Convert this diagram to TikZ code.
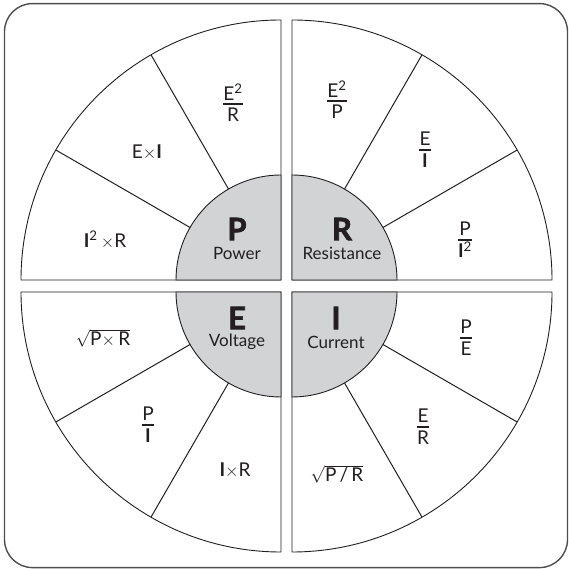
\documentclass[tikz,border=0pt]{standalone}
\usepackage{fontspec}
\setmainfont{Lato}
\newfontfamily\heavyfont[BoldFeatures={FakeBold=2}]{Lato}
\usetikzlibrary{calc}
\definecolor{ink}{HTML}{231F20}
\definecolor{hubgray}{HTML}{D1D3D4}
\definecolor{framegray}{HTML}{4D4D4F}
\newcommand\myfrac[2]{{\setlength\arrayrulewidth{1.8pt}\renewcommand\arraystretch{0}%
\begin{tabular}{@{\hspace{0.5pt}}c@{\hspace{0.5pt}}}\rule[-3pt]{0pt}{15pt}#1\\\hline\rule{0pt}{17pt}#2\end{tabular}}}
\newcommand\tms{$\times$}
\begin{document}
\begin{tikzpicture}[x=1pt,y=1pt,
  quad/.style={draw=ink,line width=0.9pt,fill=white},
  hub/.style={draw=ink,line width=0.9pt,fill=hubgray},
  divider/.style={draw=ink,line width=1pt},
  formula/.style={text=ink,font=\fontsize{19}{22}\selectfont,inner sep=0pt},
  letter/.style={text=ink,font=\fontsize{31}{31}\selectfont\heavyfont\bfseries,inner sep=0pt},
  word/.style={text=ink,font=\fontsize{17}{20}\selectfont,inner sep=0pt}]
\useasboundingbox (0,0) rectangle (569,569);
\node[draw=framegray,line width=1.4pt,rounded corners=28pt,minimum width=563pt,minimum height=564pt,inner sep=0pt] (frame) at (286,283.4) {};
% quadrants
\coordinate (ctl) at (281,289);
\coordinate (ctr) at (292,289);
\coordinate (cbl) at (281,277);
\coordinate (cbr) at (292,277);
\draw[quad] (ctl) -- ++(0,260) arc[start angle=90,end angle=180,radius=260] -- cycle;
\draw[quad] (ctr) -- ++(260,0) arc[start angle=0,end angle=90,radius=260] -- cycle;
\draw[quad] (cbl) -- ++(-260,0) arc[start angle=180,end angle=270,radius=260] -- cycle;
\draw[quad] (cbr) -- ++(0,-260) arc[start angle=270,end angle=360,radius=260] -- cycle;
% hubs
\draw[hub] (ctl) -- ++(0,105) arc[start angle=90,end angle=180,radius=105] -- cycle;
\draw[hub] (ctr) -- ++(105,0) arc[start angle=0,end angle=90,radius=105] -- cycle;
\draw[hub] (cbl) -- ++(-105,0) arc[start angle=180,end angle=270,radius=105] -- cycle;
\draw[hub] (cbr) -- ++(0,-105) arc[start angle=270,end angle=360,radius=105] -- cycle;
% dividers
\foreach \c/\a in {ctl/120,ctl/150,ctr/30,ctr/60,cbl/210,cbl/240,cbr/300,cbr/330}
  \draw[divider] ($(\c)+(\a:105)$) -- ($(\c)+(\a:260)$);
% hub labels
\node[letter] (pl) at (237,340) {P};
\node[word] (pw) at (237,316) {Power};
\node[letter] (rl) at (342,340) {R};
\node[word] (rw) at (342,316) {Resistance};
\node[letter] (el) at (237,251) {E};
\node[word] (ew) at (237,227) {Voltage};
\node[letter] (il) at (336,251) {I};
\node[word] (iw) at (336,227) {Current};
% power formulas
\node[formula] (p1) at (233,466) {\myfrac{E\textsuperscript{2}}{R}};
\node[formula] (p2) at (147,417) {E\tms\textbf{I}};
\node[formula] (p3) at (105,329) {\textbf{I}\textsuperscript{2}\,\tms R};
% resistance formulas
\node[formula] (r1) at (337,469) {\myfrac{E\textsuperscript{2}}{P}};
\node[formula] (r2) at (425,419) {\myfrac{E}{\textbf{I}}};
\node[formula] (r3) at (465,329) {\myfrac{P}{\textbf{I}\textsuperscript{2}}};
% voltage formulas
\node[formula] (v1) at (103,231) {$\sqrt{\mbox{P$\times$\,R}}$};
\node[formula] (v2) at (148,144) {\myfrac{P}{\textbf{I}}};
\node[formula] (v3) at (235,99) {\textbf{I}\tms R};
% current formulas
\node[formula] (c1) at (466,231) {\myfrac{P}{E}};
\node[formula] (c2) at (423,142) {\myfrac{E}{R}};
\node[formula] (c3) at (337,95) {$\sqrt{\mbox{P\,/\,R}}$};
\end{tikzpicture}
\end{document}
